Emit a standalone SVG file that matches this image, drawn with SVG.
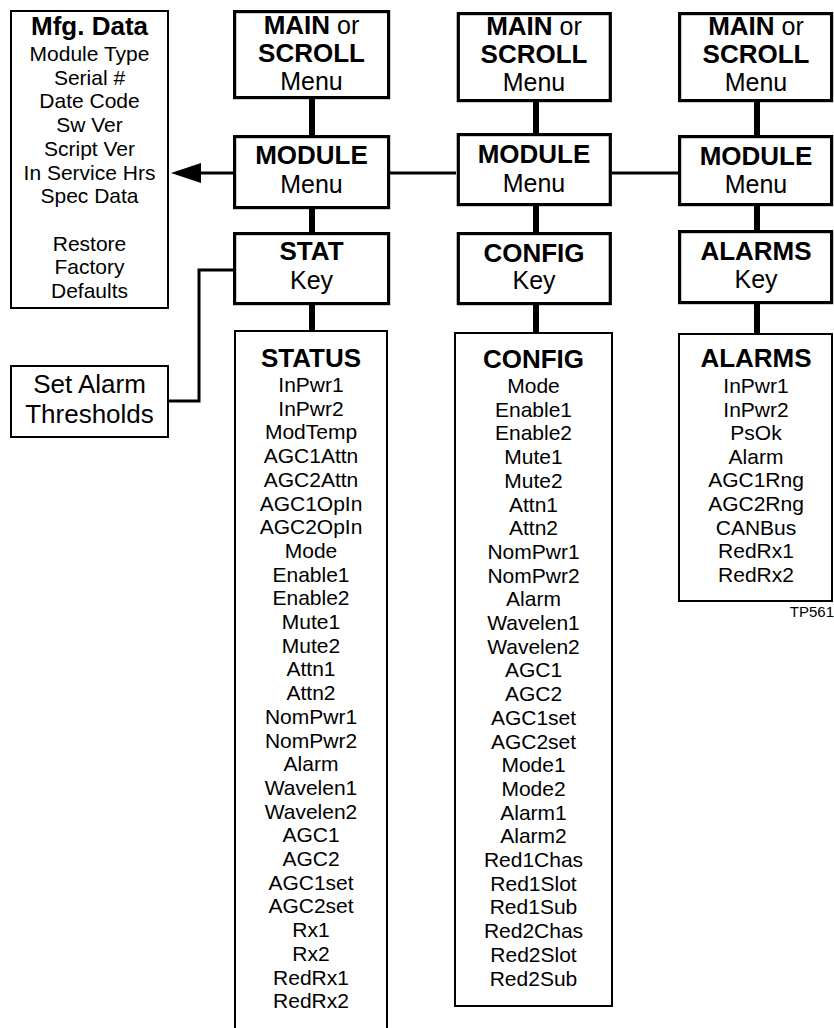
<svg xmlns="http://www.w3.org/2000/svg" width="834" height="1028" viewBox="0 0 834 1028">
<style>
text{font-family:"Liberation Sans",Arial,sans-serif;fill:#000;text-anchor:middle}
.b{font-weight:bold;font-size:26px}
.r{font-size:25px}
.i{font-size:21px}
.k{fill:#fff;stroke:#000;stroke-width:3.2}
.t{fill:#fff;stroke:#000;stroke-width:2}
.v{stroke:#000;stroke-width:6;fill:none}
.h{stroke:#000;stroke-width:3;fill:none}
</style>
<rect width="834" height="1028" fill="#fff"/>
<g id="connectors">
<path class="v" d="M312 99V135M312 209V232M312 305V331M536 102V134M536 205V232M536 305V333M757 102V135M757 206V230M757 304V334"/>
<path class="h" d="M390 173H456M612 173H678M200 173H233"/>
<polygon points="171,173 201,163 201,183" fill="#000"/>
<polyline class="h" points="169,401 199,401 199,270 233,270"/>
</g>
<g id="mfg">
<rect class="t" x="11" y="11" width="157" height="297"/>
<text class="b" x="89.5" y="35">Mfg. Data</text>
<text class="i"><tspan x="89.5" y="61">Module Type</tspan><tspan x="89.5" y="84.7">Serial #</tspan><tspan x="89.5" y="108.4">Date Code</tspan><tspan x="89.5" y="132.1">Sw Ver</tspan><tspan x="89.5" y="155.8">Script Ver</tspan><tspan x="89.5" y="179.5">In Service Hrs</tspan><tspan x="89.5" y="203.2">Spec Data</tspan><tspan x="89.5" y="250.6">Restore</tspan><tspan x="89.5" y="274.3">Factory</tspan><tspan x="89.5" y="298">Defaults</tspan></text>
</g>
<g id="setalarm">
<rect class="t" x="11" y="366" width="157" height="71"/>
<text style="font-size:26px"><tspan x="89.5" y="393">Set Alarm</tspan><tspan x="89.5" y="423">Thresholds</tspan></text>
</g>
<g id="main1">
<rect class="k" x="234.6" y="11.6" width="154" height="86"/>
<text x="311.5" y="34"><tspan class="b">MAIN</tspan><tspan class="r"> or</tspan></text>
<text class="b" x="311.5" y="62">SCROLL</text>
<text class="r" x="311.5" y="90">Menu</text>
</g>
<g id="module1">
<rect class="k" x="234.6" y="136.6" width="154" height="71"/>
<text class="b" x="311.5" y="164">MODULE</text>
<text class="r" x="311.5" y="193">Menu</text>
</g>
<g id="stat">
<rect class="k" x="234.6" y="233.6" width="154" height="70"/>
<text class="b" x="311.5" y="260">STAT</text>
<text class="r" x="311.5" y="289">Key</text>
</g>
<g id="status">
<rect class="t" x="235" y="331" width="152" height="720"/>
<text class="b" x="311" y="367">STATUS</text>
<text class="i"><tspan x="311" y="392">InPwr1</tspan><tspan x="311" y="415.7">InPwr2</tspan><tspan x="311" y="439.4">ModTemp</tspan><tspan x="311" y="463.1">AGC1Attn</tspan><tspan x="311" y="486.8">AGC2Attn</tspan><tspan x="311" y="510.5">AGC1OpIn</tspan><tspan x="311" y="534.2">AGC2OpIn</tspan><tspan x="311" y="557.9">Mode</tspan><tspan x="311" y="581.6">Enable1</tspan><tspan x="311" y="605.3">Enable2</tspan><tspan x="311" y="629">Mute1</tspan><tspan x="311" y="652.7">Mute2</tspan><tspan x="311" y="676.4">Attn1</tspan><tspan x="311" y="700.1">Attn2</tspan><tspan x="311" y="723.8">NomPwr1</tspan><tspan x="311" y="747.5">NomPwr2</tspan><tspan x="311" y="771.2">Alarm</tspan><tspan x="311" y="794.9">Wavelen1</tspan><tspan x="311" y="818.6">Wavelen2</tspan><tspan x="311" y="842.3">AGC1</tspan><tspan x="311" y="866">AGC2</tspan><tspan x="311" y="889.7">AGC1set</tspan><tspan x="311" y="913.4">AGC2set</tspan><tspan x="311" y="937.1">Rx1</tspan><tspan x="311" y="960.8">Rx2</tspan><tspan x="311" y="984.5">RedRx1</tspan><tspan x="311" y="1008.2">RedRx2</tspan></text>
</g>
<g id="main2">
<rect class="k" x="458.3" y="13.6" width="152" height="87"/>
<text x="534" y="35"><tspan class="b">MAIN</tspan><tspan class="r"> or</tspan></text>
<text class="b" x="534" y="63">SCROLL</text>
<text class="r" x="534" y="91">Menu</text>
</g>
<g id="module2">
<rect class="k" x="458.3" y="134.6" width="152" height="70"/>
<text class="b" x="534" y="163">MODULE</text>
<text class="r" x="534" y="192">Menu</text>
</g>
<g id="configkey">
<rect class="k" x="458.3" y="233.6" width="152" height="70"/>
<text class="b" x="534" y="262">CONFIG</text>
<text class="r" x="534" y="289">Key</text>
</g>
<g id="config">
<rect class="t" x="455" y="333" width="157" height="673"/>
<text class="b" x="533.5" y="368">CONFIG</text>
<text class="i"><tspan x="533.5" y="393">Mode</tspan><tspan x="533.5" y="416.7">Enable1</tspan><tspan x="533.5" y="440.4">Enable2</tspan><tspan x="533.5" y="464.1">Mute1</tspan><tspan x="533.5" y="487.8">Mute2</tspan><tspan x="533.5" y="511.5">Attn1</tspan><tspan x="533.5" y="535.2">Attn2</tspan><tspan x="533.5" y="558.9">NomPwr1</tspan><tspan x="533.5" y="582.6">NomPwr2</tspan><tspan x="533.5" y="606.3">Alarm</tspan><tspan x="533.5" y="630">Wavelen1</tspan><tspan x="533.5" y="653.7">Wavelen2</tspan><tspan x="533.5" y="677.4">AGC1</tspan><tspan x="533.5" y="701.1">AGC2</tspan><tspan x="533.5" y="724.8">AGC1set</tspan><tspan x="533.5" y="748.5">AGC2set</tspan><tspan x="533.5" y="772.2">Mode1</tspan><tspan x="533.5" y="795.9">Mode2</tspan><tspan x="533.5" y="819.6">Alarm1</tspan><tspan x="533.5" y="843.3">Alarm2</tspan><tspan x="533.5" y="867">Red1Chas</tspan><tspan x="533.5" y="890.7">Red1Slot</tspan><tspan x="533.5" y="914.4">Red1Sub</tspan><tspan x="533.5" y="938.1">Red2Chas</tspan><tspan x="533.5" y="961.8">Red2Slot</tspan><tspan x="533.5" y="985.5">Red2Sub</tspan></text>
</g>
<g id="main3">
<rect class="k" x="679.6" y="13.6" width="152" height="87"/>
<text x="756" y="35"><tspan class="b">MAIN</tspan><tspan class="r"> or</tspan></text>
<text class="b" x="756" y="63">SCROLL</text>
<text class="r" x="756" y="91">Menu</text>
</g>
<g id="module3">
<rect class="k" x="679.6" y="136.6" width="152" height="68"/>
<text class="b" x="756" y="165">MODULE</text>
<text class="r" x="756" y="193">Menu</text>
</g>
<g id="alarmskey">
<rect class="k" x="679.6" y="231.6" width="152" height="71"/>
<text class="b" x="756" y="260">ALARMS</text>
<text class="r" x="756" y="288">Key</text>
</g>
<g id="alarms">
<rect class="t" x="679" y="334" width="153" height="267"/>
<text class="b" x="756" y="367">ALARMS</text>
<text class="i"><tspan x="756" y="393">InPwr1</tspan><tspan x="756" y="416.6">InPwr2</tspan><tspan x="756" y="440.2">PsOk</tspan><tspan x="756" y="463.8">Alarm</tspan><tspan x="756" y="487.4">AGC1Rng</tspan><tspan x="756" y="511">AGC2Rng</tspan><tspan x="756" y="534.6">CANBus</tspan><tspan x="756" y="558.2">RedRx1</tspan><tspan x="756" y="581.8">RedRx2</tspan></text>
</g>
<text x="834" y="617" style="font-size:15px;text-anchor:end">TP561</text>
</svg>
